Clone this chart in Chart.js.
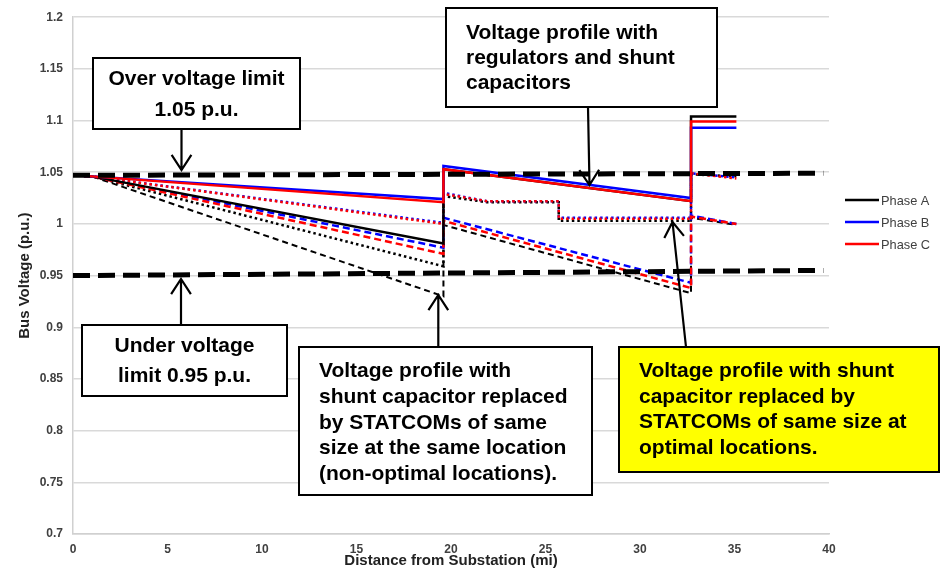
<!DOCTYPE html>
<html>
<head>
<meta charset="utf-8">
<script src="https://cdn.jsdelivr.net/npm/chart.js@4.4.1/dist/chart.umd.min.js"></script>
<style>
  html, body { margin: 0; padding: 0; background: #fff; }
  canvas { display: block; }
</style>
</head>
<body>
<canvas id="chart" width="942" height="570"></canvas>
<script>
// distance along the feeder (mi) for each series
const solidX = [0, 1, 19.6, 19.6, 32.7, 32.7, 35.1];
const dashX  = [0, 1, 19.6, 19.6, 32.7, 32.7, 35.1];
const dotX   = [0, 1, 19.6, 19.6, 21.9, 25.7, 25.7, 32.7, 32.7, 35.1];
const limitX = [0, 39.7];

// regulators and shunt capacitors (solid)
const solidA = [1.047, 1.046, 0.981, 1.053, 1.022, 1.104, 1.104];
const solidB = [1.047, 1.046, 1.024, 1.056, 1.025, 1.093, 1.093];
const solidC = [1.047, 1.046, 1.021, 1.053, 1.022, 1.099, 1.099];

// STATCOMs at the same location (dashed)
const dashA = [1.047, 1.046, 0.930, 0.999, 0.933, 1.006, 0.999];
const dashB = [1.047, 1.046, 0.977, 1.006, 0.943, 1.008, 1.000];
const dashC = [1.047, 1.046, 0.971, 1.003, 0.938, 1.007, 1.000];

// STATCOMs at optimal locations (dotted)
const dotA = [1.047, 1.046, 0.959, 1.027, 1.021, 1.021, 1.003, 1.003, 1.048, 1.046];
const dotB = [1.047, 1.046, 1.001, 1.030, 1.022, 1.022, 1.006, 1.006, 1.049, 1.045];
const dotC = [1.047, 1.046, 1.000, 1.029, 1.022, 1.022, 1.005, 1.005, 1.049, 1.044];

// voltage limits
const overLimit  = [1.047, 1.049];
const underLimit = [0.950, 0.955];

const xTickLabels = ['0', '5', '10', '15', '20', '25', '30', '35', '40'];
const yTickLabels = ['0.7', '0.75', '0.8', '0.85', '0.9', '0.95', '1', '1.05', '1.1', '1.15', '1.2'];
const phaseNames = ['Phase A', 'Phase B', 'Phase C'];
const phaseColors = ['#000000', '#0000ff', '#ff0000'];

function pts(xs, ys) {
    return xs.map((x, i) => ({ x: x, y: ys[i] }));
}

function series(xs, ys, color, width, dash) {
    return {
        data: pts(xs, ys),
        borderColor: color,
        borderWidth: width,
        borderDash: dash,
        pointRadius: 0,
        tension: 0,
        fill: false
    };
}

const FONT = "'Liberation Sans', Arial, sans-serif";
Chart.defaults.font.family = FONT;

// callout boxes drawn on top of the chart
const callouts = [
    { x: 93, y: 58, w: 207, h: 71, fill: '#ffffff', align: 'center', first: 85, step: 31,
      lines: ['Over voltage limit', '1.05 p.u.'] },
    { x: 82, y: 325, w: 205, h: 71, fill: '#ffffff', align: 'center', first: 352, step: 30,
      lines: ['Under voltage', 'limit 0.95 p.u.'] },
    { x: 446, y: 8, w: 271, h: 99, fill: '#ffffff', align: 'left', first: 39, step: 25,
      lines: ['Voltage profile with', 'regulators and shunt', 'capacitors'] },
    { x: 299, y: 347, w: 293, h: 148, fill: '#ffffff', align: 'left', first: 377, step: 25.8,
      lines: ['Voltage profile with', 'shunt capacitor replaced', 'by STATCOMs of same',
              'size at the same location', '(non-optimal locations).'] },
    { x: 619, y: 347, w: 320, h: 125, fill: '#ffff00', align: 'left', first: 377, step: 25.5,
      lines: ['Voltage profile with shunt', 'capacitor replaced by',
              'STATCOMs of same size at', 'optimal locations.'] }
];

const arrows = [
    [181.5, 129, 181.5, 170],
    [181, 325, 181, 279],
    [588, 107, 589.5, 185],
    [438.3, 347, 438.3, 295],
    [686, 347, 672.5, 222]
];

function drawArrow(ctx, x1, y1, x2, y2) {
    const ang = Math.atan2(y2 - y1, x2 - x1);
    const len = 18, spread = 0.58;
    ctx.beginPath();
    ctx.moveTo(x1, y1);
    ctx.lineTo(x2, y2);
    ctx.moveTo(x2 - len * Math.cos(ang - spread), y2 - len * Math.sin(ang - spread));
    ctx.lineTo(x2, y2);
    ctx.lineTo(x2 - len * Math.cos(ang + spread), y2 - len * Math.sin(ang + spread));
    ctx.stroke();
}

const overlay = {
    id: 'overlay',
    afterDraw(chart) {
        const ctx = chart.ctx;
        ctx.save();

        // legend
        ctx.font = '12.8px ' + FONT;
        ctx.textBaseline = 'middle';
        ctx.textAlign = 'left';
        phaseNames.forEach((name, i) => {
            const y = 200 + i * 22;
            ctx.strokeStyle = phaseColors[i];
            ctx.lineWidth = 2.5;
            ctx.setLineDash([]);
            ctx.beginPath();
            ctx.moveTo(845, y);
            ctx.lineTo(879, y);
            ctx.stroke();
            ctx.fillStyle = '#404040';
            ctx.fillText(name, 881, y + 1);
        });

        // arrows
        ctx.strokeStyle = '#000';
        ctx.lineWidth = 2.2;
        ctx.lineCap = 'butt';
        arrows.forEach(a => drawArrow(ctx, a[0], a[1], a[2], a[3]));

        // boxes
        callouts.forEach(b => {
            ctx.fillStyle = b.fill;
            ctx.fillRect(b.x, b.y, b.w, b.h);
            ctx.strokeStyle = '#000';
            ctx.lineWidth = 2;
            ctx.strokeRect(b.x, b.y, b.w, b.h);
            ctx.fillStyle = '#000';
            ctx.font = 'bold 21px ' + FONT;
            ctx.textBaseline = 'alphabetic';
            ctx.textAlign = b.align;
            const tx = b.align === 'center' ? b.x + b.w / 2 : b.x + 20;
            b.lines.forEach((line, i) => ctx.fillText(line, tx, b.first + i * b.step));
        });
        ctx.restore();
    }
};

const limitStyle = [17, 8];
const dashStyle = [7, 4];
const dotStyle = [2.5, 3];

new Chart(document.getElementById('chart'), {
    type: 'line',
    data: {
        datasets: [
            series(limitX, overLimit, '#000000', 5, limitStyle),
            series(limitX, underLimit, '#000000', 5, limitStyle),
            series(solidX, solidC, phaseColors[2], 2.5, []),
            series(solidX, solidB, phaseColors[1], 2.5, []),
            series(solidX, solidA, phaseColors[0], 2.5, []),
            series(dashX, dashC, phaseColors[2], 2.5, dashStyle),
            series(dashX, dashB, phaseColors[1], 2.5, dashStyle),
            series(dashX, dashA, phaseColors[0], 2, [6, 4]),
            series(dotX, dotC, phaseColors[2], 2.5, dotStyle),
            series(dotX, dotB, phaseColors[1], 2.5, dotStyle),
            series(dotX, dotA, phaseColors[0], 2.5, dotStyle)
        ]
    },
    options: {
        responsive: false,
        animation: false,
        layout: { padding: { top: 15, right: 113, bottom: 0, left: 0 } },
        plugins: {
            legend: { display: false },
            tooltip: { enabled: false }
        },
        scales: {
            x: {
                type: 'linear',
                min: 0,
                max: 40,
                ticks: {
                    stepSize: 5,
                    padding: 8,
                    color: '#404040',
                    font: { size: 12, weight: 'bold' },
                    callback: (v, i) => xTickLabels[i]
                },
                grid: { display: false, drawTicks: false },
                border: { display: true, color: '#d0d0d0', width: 1.5 },
                title: {
                    display: true,
                    text: 'Distance from Substation (mi)',
                    color: '#222',
                    font: { size: 15, weight: 'bold' },
                    padding: 0
                },
                afterFit: s => { s.height = 36; }
            },
            y: {
                min: 0.7,
                max: 1.2,
                ticks: {
                    stepSize: 0.05,
                    padding: 10,
                    color: '#404040',
                    font: { size: 12, weight: 'bold' },
                    callback: (v, i) => yTickLabels[i]
                },
                grid: { color: '#d9d9d9', lineWidth: 1.5, drawTicks: false },
                border: { display: true, color: '#d0d0d0', width: 1.5 },
                title: {
                    display: true,
                    text: 'Bus Voltage (p.u.)',
                    color: '#222',
                    font: { size: 15, weight: 'bold' },
                    padding: { top: 16, bottom: 0 }
                },
                afterFit: s => { s.width = 73; }
            }
        }
    },
    plugins: [overlay]
});
</script>
</body>
</html>
